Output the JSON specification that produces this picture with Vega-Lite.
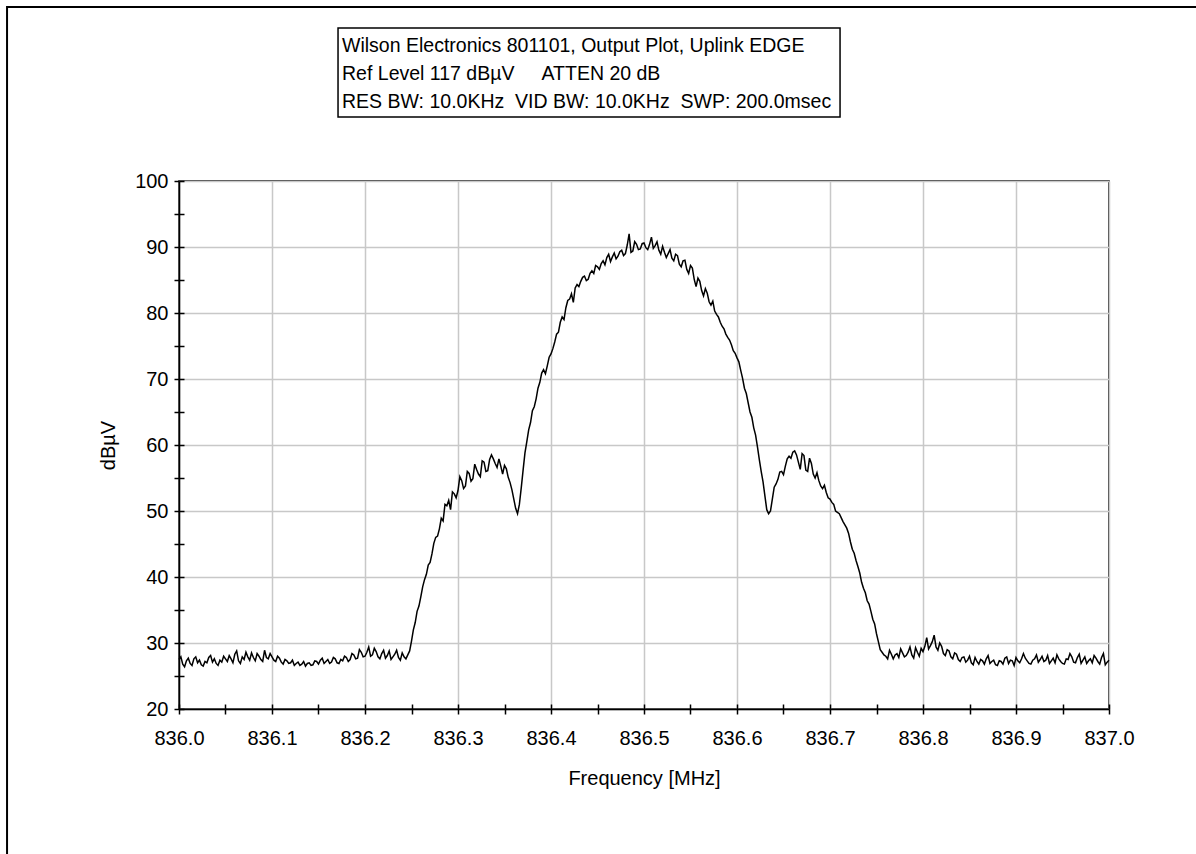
{
  "$schema": "https://vega.github.io/schema/vega-lite/v6.json",
  "width": 930,
  "height": 528,
  "padding": {"left": 6, "top": 6, "right": 0, "bottom": 0},
  "background": "white",
  "config": {
    "font": "Liberation Sans",
    "view": {"stroke": "black", "strokeWidth": 1.5},
    "axis": {
      "labelFont": "Liberation Sans",
      "labelFontSize": 20,
      "labelColor": "black",
      "titleFont": "Liberation Sans",
      "titleFontSize": 20,
      "titleFontWeight": "normal",
      "titleColor": "black",
      "domainColor": "black",
      "domainWidth": 1.5,
      "tickColor": "black",
      "tickWidth": 1.5,
      "tickSize": 5,
      "gridColor": "#c8c8c8",
      "gridWidth": 1.5
    }
  },
  "datasets": {
    "trace": [
      {"f":836.000,"v":27.5},{"f":836.002,"v":27.9},{"f":836.004,"v":26.8},{"f":836.006,"v":26.4},{"f":836.008,"v":27.3},{"f":836.010,"v":27.7},{"f":836.012,"v":26.9},{"f":836.014,"v":26.6},{"f":836.016,"v":27.6},{"f":836.018,"v":27.9},
      {"f":836.020,"v":27.0},{"f":836.022,"v":27.4},{"f":836.024,"v":26.7},{"f":836.026,"v":26.5},{"f":836.028,"v":27.2},{"f":836.030,"v":27.0},{"f":836.032,"v":27.8},{"f":836.034,"v":28.1},{"f":836.036,"v":27.1},{"f":836.038,"v":27.6},
      {"f":836.040,"v":26.9},{"f":836.042,"v":26.6},{"f":836.044,"v":27.4},{"f":836.046,"v":27.1},{"f":836.048,"v":28.0},{"f":836.050,"v":27.6},{"f":836.052,"v":27.2},{"f":836.054,"v":28.1},{"f":836.056,"v":27.6},{"f":836.058,"v":27.0},
      {"f":836.060,"v":28.3},{"f":836.062,"v":28.8},{"f":836.064,"v":27.3},{"f":836.066,"v":26.9},{"f":836.068,"v":27.9},{"f":836.070,"v":27.5},{"f":836.072,"v":28.6},{"f":836.074,"v":27.9},{"f":836.076,"v":27.4},{"f":836.078,"v":28.5},
      {"f":836.080,"v":27.8},{"f":836.082,"v":27.3},{"f":836.084,"v":28.4},{"f":836.086,"v":28.0},{"f":836.088,"v":27.5},{"f":836.090,"v":27.2},{"f":836.092,"v":28.9},{"f":836.094,"v":27.8},{"f":836.096,"v":27.6},{"f":836.098,"v":28.4},
      {"f":836.100,"v":27.9},{"f":836.102,"v":27.4},{"f":836.104,"v":27.2},{"f":836.106,"v":28.0},{"f":836.108,"v":27.7},{"f":836.110,"v":27.1},{"f":836.112,"v":26.8},{"f":836.114,"v":27.5},{"f":836.116,"v":27.3},{"f":836.118,"v":26.9},
      {"f":836.120,"v":27.0},{"f":836.122,"v":27.4},{"f":836.124,"v":26.6},{"f":836.126,"v":26.9},{"f":836.128,"v":27.1},{"f":836.130,"v":26.6},{"f":836.132,"v":26.8},{"f":836.134,"v":27.2},{"f":836.136,"v":26.5},{"f":836.138,"v":26.9},
      {"f":836.140,"v":27.0},{"f":836.142,"v":26.6},{"f":836.144,"v":26.7},{"f":836.146,"v":27.3},{"f":836.148,"v":27.2},{"f":836.150,"v":26.8},{"f":836.152,"v":27.4},{"f":836.154,"v":27.7},{"f":836.156,"v":26.9},{"f":836.158,"v":27.2},
      {"f":836.160,"v":27.5},{"f":836.162,"v":26.9},{"f":836.164,"v":27.1},{"f":836.166,"v":27.8},{"f":836.168,"v":27.6},{"f":836.170,"v":27.0},{"f":836.172,"v":26.9},{"f":836.174,"v":27.5},{"f":836.176,"v":27.3},{"f":836.178,"v":28.0},
      {"f":836.180,"v":27.8},{"f":836.182,"v":27.2},{"f":836.184,"v":27.5},{"f":836.186,"v":28.4},{"f":836.188,"v":28.2},{"f":836.190,"v":27.6},{"f":836.192,"v":27.7},{"f":836.194,"v":29.0},{"f":836.196,"v":28.6},{"f":836.198,"v":27.9},
      {"f":836.200,"v":28.0},{"f":836.202,"v":28.6},{"f":836.204,"v":29.4},{"f":836.206,"v":28.0},{"f":836.208,"v":28.2},{"f":836.210,"v":29.2},{"f":836.212,"v":28.7},{"f":836.214,"v":27.9},{"f":836.216,"v":27.6},{"f":836.218,"v":28.4},
      {"f":836.220,"v":28.9},{"f":836.222,"v":27.7},{"f":836.224,"v":28.1},{"f":836.226,"v":28.8},{"f":836.228,"v":27.5},{"f":836.230,"v":27.9},{"f":836.232,"v":28.3},{"f":836.234,"v":28.9},{"f":836.236,"v":27.8},{"f":836.238,"v":27.4},
      {"f":836.240,"v":28.5},{"f":836.242,"v":27.9},{"f":836.244,"v":27.6},{"f":836.246,"v":28.2},{"f":836.248,"v":28.8},{"f":836.250,"v":30.3},{"f":836.252,"v":32.0},{"f":836.254,"v":33.1},{"f":836.256,"v":34.8},{"f":836.258,"v":35.6},
      {"f":836.260,"v":37.0},{"f":836.262,"v":38.5},{"f":836.264,"v":39.6},{"f":836.266,"v":40.4},{"f":836.268,"v":41.8},{"f":836.270,"v":42.2},{"f":836.272,"v":43.5},{"f":836.274,"v":45.1},{"f":836.276,"v":46.0},{"f":836.278,"v":46.2},
      {"f":836.280,"v":47.3},{"f":836.282,"v":48.9},{"f":836.284,"v":48.5},{"f":836.286,"v":51.0},{"f":836.288,"v":50.8},{"f":836.290,"v":51.6},{"f":836.292,"v":50.2},{"f":836.294,"v":52.9},{"f":836.296,"v":52.6},{"f":836.298,"v":52.0},
      {"f":836.300,"v":53.1},{"f":836.302,"v":55.2},{"f":836.304,"v":54.6},{"f":836.306,"v":53.4},{"f":836.308,"v":53.8},{"f":836.310,"v":56.0},{"f":836.312,"v":55.7},{"f":836.314,"v":54.5},{"f":836.316,"v":54.9},{"f":836.318,"v":57.1},
      {"f":836.320,"v":56.3},{"f":836.322,"v":55.6},{"f":836.324,"v":55.2},{"f":836.326,"v":57.6},{"f":836.328,"v":57.4},{"f":836.330,"v":56.0},{"f":836.332,"v":56.1},{"f":836.334,"v":57.8},{"f":836.336,"v":58.5},{"f":836.338,"v":57.9},
      {"f":836.340,"v":57.2},{"f":836.342,"v":56.6},{"f":836.344,"v":57.9},{"f":836.346,"v":56.8},{"f":836.348,"v":55.6},{"f":836.350,"v":56.9},{"f":836.352,"v":56.4},{"f":836.354,"v":55.1},{"f":836.356,"v":54.3},{"f":836.358,"v":53.2},
      {"f":836.360,"v":51.8},{"f":836.362,"v":50.4},{"f":836.364,"v":49.6},{"f":836.366,"v":51.0},{"f":836.368,"v":53.5},{"f":836.370,"v":56.2},{"f":836.372,"v":58.8},{"f":836.374,"v":60.5},{"f":836.376,"v":62.3},{"f":836.378,"v":63.4},
      {"f":836.380,"v":65.2},{"f":836.382,"v":65.8},{"f":836.384,"v":67.0},{"f":836.386,"v":68.6},{"f":836.388,"v":69.5},{"f":836.390,"v":70.9},{"f":836.392,"v":71.4},{"f":836.394,"v":70.8},{"f":836.396,"v":72.0},{"f":836.398,"v":73.3},
      {"f":836.400,"v":73.8},{"f":836.402,"v":74.6},{"f":836.404,"v":75.6},{"f":836.406,"v":76.8},{"f":836.408,"v":77.1},{"f":836.410,"v":78.6},{"f":836.412,"v":79.4},{"f":836.414,"v":79.0},{"f":836.416,"v":80.8},{"f":836.418,"v":81.9},
      {"f":836.420,"v":82.1},{"f":836.422,"v":82.9},{"f":836.424,"v":81.6},{"f":836.426,"v":83.8},{"f":836.428,"v":84.3},{"f":836.430,"v":84.0},{"f":836.432,"v":84.8},{"f":836.434,"v":85.4},{"f":836.436,"v":85.6},{"f":836.438,"v":84.9},
      {"f":836.440,"v":85.1},{"f":836.442,"v":86.0},{"f":836.444,"v":86.4},{"f":836.446,"v":86.0},{"f":836.448,"v":87.2},{"f":836.450,"v":87.0},{"f":836.452,"v":86.6},{"f":836.454,"v":87.5},{"f":836.456,"v":87.9},{"f":836.458,"v":87.3},
      {"f":836.460,"v":88.4},{"f":836.462,"v":88.9},{"f":836.464,"v":87.8},{"f":836.466,"v":88.5},{"f":836.468,"v":89.1},{"f":836.470,"v":88.2},{"f":836.472,"v":88.6},{"f":836.474,"v":89.3},{"f":836.476,"v":89.5},{"f":836.478,"v":88.7},
      {"f":836.480,"v":89.0},{"f":836.482,"v":90.3},{"f":836.484,"v":92.0},{"f":836.486,"v":89.2},{"f":836.488,"v":89.4},{"f":836.490,"v":90.8},{"f":836.492,"v":90.4},{"f":836.494,"v":89.6},{"f":836.496,"v":89.7},{"f":836.498,"v":90.5},
      {"f":836.500,"v":90.6},{"f":836.502,"v":89.9},{"f":836.504,"v":89.6},{"f":836.506,"v":90.4},{"f":836.508,"v":91.5},{"f":836.510,"v":89.8},{"f":836.512,"v":90.2},{"f":836.514,"v":90.8},{"f":836.516,"v":89.5},{"f":836.518,"v":88.9},
      {"f":836.520,"v":90.1},{"f":836.522,"v":89.2},{"f":836.524,"v":88.4},{"f":836.526,"v":89.0},{"f":836.528,"v":89.6},{"f":836.530,"v":88.3},{"f":836.532,"v":87.9},{"f":836.534,"v":88.9},{"f":836.536,"v":88.7},{"f":836.538,"v":87.4},
      {"f":836.540,"v":87.0},{"f":836.542,"v":87.9},{"f":836.544,"v":88.0},{"f":836.546,"v":86.6},{"f":836.548,"v":86.0},{"f":836.550,"v":87.2},{"f":836.552,"v":86.8},{"f":836.554,"v":85.1},{"f":836.556,"v":84.0},{"f":836.558,"v":85.3},
      {"f":836.560,"v":84.8},{"f":836.562,"v":83.4},{"f":836.564,"v":82.6},{"f":836.566,"v":83.7},{"f":836.568,"v":83.0},{"f":836.570,"v":81.7},{"f":836.572,"v":81.2},{"f":836.574,"v":81.8},{"f":836.576,"v":80.3},{"f":836.578,"v":79.8},
      {"f":836.580,"v":79.4},{"f":836.582,"v":78.6},{"f":836.584,"v":78.0},{"f":836.586,"v":77.6},{"f":836.588,"v":76.8},{"f":836.590,"v":76.3},{"f":836.592,"v":75.9},{"f":836.594,"v":75.2},{"f":836.596,"v":74.3},{"f":836.598,"v":73.9},
      {"f":836.600,"v":73.2},{"f":836.602,"v":72.6},{"f":836.604,"v":71.3},{"f":836.606,"v":70.1},{"f":836.608,"v":68.6},{"f":836.610,"v":67.8},{"f":836.612,"v":66.4},{"f":836.614,"v":65.0},{"f":836.616,"v":64.2},{"f":836.618,"v":62.6},
      {"f":836.620,"v":61.5},{"f":836.622,"v":59.7},{"f":836.624,"v":57.8},{"f":836.626,"v":56.0},{"f":836.628,"v":54.4},{"f":836.630,"v":52.3},{"f":836.632,"v":50.2},{"f":836.634,"v":49.6},{"f":836.636,"v":50.0},{"f":836.638,"v":51.8},
      {"f":836.640,"v":53.6},{"f":836.642,"v":54.1},{"f":836.644,"v":54.8},{"f":836.646,"v":55.9},{"f":836.648,"v":56.0},{"f":836.650,"v":55.5},{"f":836.652,"v":56.8},{"f":836.654,"v":57.9},{"f":836.656,"v":58.3},{"f":836.658,"v":58.0},
      {"f":836.660,"v":58.9},{"f":836.662,"v":59.1},{"f":836.664,"v":58.5},{"f":836.666,"v":57.4},{"f":836.668,"v":56.3},{"f":836.670,"v":58.7},{"f":836.672,"v":58.4},{"f":836.674,"v":56.2},{"f":836.676,"v":56.0},{"f":836.678,"v":58.0},
      {"f":836.680,"v":57.2},{"f":836.682,"v":55.6},{"f":836.684,"v":55.0},{"f":836.686,"v":55.8},{"f":836.688,"v":54.6},{"f":836.690,"v":53.8},{"f":836.692,"v":53.4},{"f":836.694,"v":53.9},{"f":836.696,"v":52.8},{"f":836.698,"v":52.0},
      {"f":836.700,"v":51.8},{"f":836.702,"v":51.3},{"f":836.704,"v":51.0},{"f":836.706,"v":50.0},{"f":836.708,"v":49.8},{"f":836.710,"v":49.6},{"f":836.712,"v":49.0},{"f":836.714,"v":48.4},{"f":836.716,"v":47.9},{"f":836.718,"v":47.4},
      {"f":836.720,"v":46.6},{"f":836.722,"v":45.3},{"f":836.724,"v":44.2},{"f":836.726,"v":43.6},{"f":836.728,"v":42.5},{"f":836.730,"v":41.6},{"f":836.732,"v":40.6},{"f":836.734,"v":39.2},{"f":836.736,"v":38.3},{"f":836.738,"v":37.6},
      {"f":836.740,"v":36.4},{"f":836.742,"v":35.9},{"f":836.744,"v":34.8},{"f":836.746,"v":33.6},{"f":836.748,"v":32.9},{"f":836.750,"v":31.4},{"f":836.752,"v":30.2},{"f":836.754,"v":29.0},{"f":836.756,"v":28.6},{"f":836.758,"v":28.2},
      {"f":836.760,"v":28.0},{"f":836.762,"v":27.6},{"f":836.764,"v":28.9},{"f":836.766,"v":28.3},{"f":836.768,"v":27.6},{"f":836.770,"v":28.2},{"f":836.772,"v":28.4},{"f":836.774,"v":27.8},{"f":836.776,"v":29.1},{"f":836.778,"v":28.5},
      {"f":836.780,"v":27.9},{"f":836.782,"v":28.1},{"f":836.784,"v":28.6},{"f":836.786,"v":29.4},{"f":836.788,"v":28.2},{"f":836.790,"v":27.7},{"f":836.792,"v":29.3},{"f":836.794,"v":28.6},{"f":836.796,"v":28.0},{"f":836.798,"v":29.2},
      {"f":836.800,"v":28.7},{"f":836.802,"v":29.5},{"f":836.804,"v":30.8},{"f":836.806,"v":29.1},{"f":836.808,"v":29.6},{"f":836.810,"v":30.2},{"f":836.812,"v":31.2},{"f":836.814,"v":29.4},{"f":836.816,"v":28.9},{"f":836.818,"v":30.0},
      {"f":836.820,"v":29.5},{"f":836.822,"v":28.4},{"f":836.824,"v":28.1},{"f":836.826,"v":29.0},{"f":836.828,"v":28.8},{"f":836.830,"v":27.9},{"f":836.832,"v":27.6},{"f":836.834,"v":28.5},{"f":836.836,"v":28.3},{"f":836.838,"v":27.5},
      {"f":836.840,"v":27.2},{"f":836.842,"v":27.8},{"f":836.844,"v":27.9},{"f":836.846,"v":27.1},{"f":836.848,"v":27.4},{"f":836.850,"v":28.0},{"f":836.852,"v":27.0},{"f":836.854,"v":26.7},{"f":836.856,"v":27.8},{"f":836.858,"v":27.2},
      {"f":836.860,"v":26.8},{"f":836.862,"v":27.5},{"f":836.864,"v":27.3},{"f":836.866,"v":26.8},{"f":836.868,"v":27.6},{"f":836.870,"v":28.1},{"f":836.872,"v":26.9},{"f":836.874,"v":27.2},{"f":836.876,"v":27.4},{"f":836.878,"v":26.7},
      {"f":836.880,"v":26.6},{"f":836.882,"v":27.3},{"f":836.884,"v":27.2},{"f":836.886,"v":26.8},{"f":836.888,"v":27.7},{"f":836.890,"v":27.9},{"f":836.892,"v":26.9},{"f":836.894,"v":27.4},{"f":836.896,"v":27.3},{"f":836.898,"v":26.6},
      {"f":836.900,"v":27.8},{"f":836.902,"v":27.3},{"f":836.904,"v":27.0},{"f":836.906,"v":27.6},{"f":836.908,"v":28.4},{"f":836.910,"v":27.7},{"f":836.912,"v":27.3},{"f":836.914,"v":26.9},{"f":836.916,"v":26.8},{"f":836.918,"v":27.4},
      {"f":836.920,"v":27.6},{"f":836.922,"v":28.2},{"f":836.924,"v":27.1},{"f":836.926,"v":27.5},{"f":836.928,"v":28.0},{"f":836.930,"v":27.2},{"f":836.932,"v":27.4},{"f":836.934,"v":28.1},{"f":836.936,"v":26.9},{"f":836.938,"v":27.3},
      {"f":836.940,"v":27.7},{"f":836.942,"v":27.0},{"f":836.944,"v":28.2},{"f":836.946,"v":27.6},{"f":836.948,"v":27.2},{"f":836.950,"v":26.9},{"f":836.952,"v":26.8},{"f":836.954,"v":27.6},{"f":836.956,"v":27.5},{"f":836.958,"v":28.4},
      {"f":836.960,"v":27.9},{"f":836.962,"v":27.1},{"f":836.964,"v":27.0},{"f":836.966,"v":27.8},{"f":836.968,"v":28.3},{"f":836.970,"v":26.9},{"f":836.972,"v":27.4},{"f":836.974,"v":27.9},{"f":836.976,"v":26.9},{"f":836.978,"v":27.3},
      {"f":836.980,"v":27.6},{"f":836.982,"v":27.0},{"f":836.984,"v":28.1},{"f":836.986,"v":27.7},{"f":836.988,"v":27.2},{"f":836.990,"v":26.8},{"f":836.992,"v":27.8},{"f":836.994,"v":28.4},{"f":836.996,"v":26.7},{"f":836.998,"v":27.1},
      {"f":837.000,"v":27.4}
    ],
    "caption": [
      {"text": ["Wilson Electronics 801101, Output Plot, Uplink EDGE", "Ref Level 117 dBµV\u00a0\u00a0\u00a0\u00a0\u00a0ATTEN 20 dB", "RES BW: 10.0KHz\u00a0\u00a0VID BW: 10.0KHz\u00a0\u00a0SWP: 200.0msec"]}
    ]
  },
  "resolve": {"axis": {"x": "independent", "y": "independent"}},
  "layer": [
    {
      "data": {"name": "trace"},
      "mark": {"type": "line", "color": "black", "strokeWidth": 1.5},
      "encoding": {
        "x": {
          "field": "f", "type": "quantitative",
          "scale": {"domain": [836, 837], "nice": false, "zero": false},
          "axis": {
            "orient": "bottom",
            "title": "Frequency [MHz]",
            "values": [836.0, 836.05, 836.1, 836.15, 836.2, 836.25, 836.3, 836.35, 836.4, 836.45, 836.5, 836.55, 836.6, 836.65, 836.7, 836.75, 836.8, 836.85, 836.9, 836.95, 837.0],
            "labelExpr": "abs(datum.value*10 - round(datum.value*10)) < 0.001 ? format(datum.value, '.1f') : ''",
            "gridOpacity": {"condition": {"test": "abs(datum.value*10 - round(datum.value*10)) < 0.001", "value": 1}, "value": 0},
            "labelPadding": 14,
            "titlePadding": 20,
            "labelFlush": false,
            "labelOverlap": false
          }
        },
        "y": {
          "field": "v", "type": "quantitative",
          "scale": {"domain": [20, 100], "nice": false, "zero": false},
          "axis": {
            "orient": "left",
            "title": "dBµV",
            "values": [20, 25, 30, 35, 40, 45, 50, 55, 60, 65, 70, 75, 80, 85, 90, 95, 100],
            "labelExpr": "datum.value % 10 === 0 ? datum.label : ''",
            "gridOpacity": {"condition": {"test": "datum.value % 10 === 0", "value": 1}, "value": 0},
            "labelPadding": 6,
            "titlePadding": 16,
            "labelFlush": false,
            "labelOverlap": false
          }
        }
      }
    },
    {
      "data": {"values": [{}]},
      "mark": {"type": "rect", "filled": false, "stroke": "black", "strokeWidth": 2, "clip": false},
      "encoding": {
        "x": {"datum": 835.8151, "type": "quantitative", "axis": {"orient": "bottom", "values": [836.0, 836.05, 836.1, 836.15, 836.2, 836.25, 836.3, 836.35, 836.4, 836.45, 836.5, 836.55, 836.6, 836.65, 836.7, 836.75, 836.8, 836.85, 836.9, 836.95, 837.0], "tickSize": -5, "labels": false, "domain": false, "grid": false, "title": null}},
        "x2": {"datum": 837.25},
        "y": {"datum": 126.36, "type": "quantitative", "axis": {"orient": "left", "values": [20, 25, 30, 35, 40, 45, 50, 55, 60, 65, 70, 75, 80, 85, 90, 95, 100], "tickSize": -5, "labels": false, "domain": false, "grid": false, "title": null}},
        "y2": {"datum": -8}
      }
    },
    {
      "data": {"values": [{}]},
      "mark": {"type": "rect", "filled": false, "stroke": "black", "strokeWidth": 1.5, "clip": false},
      "encoding": {
        "x": {"datum": 836.171, "type": "quantitative", "axis": null},
        "x2": {"datum": 836.7108},
        "y": {"datum": 123.18, "type": "quantitative", "axis": null},
        "y2": {"datum": 109.7}
      }
    },
    {
      "data": {"name": "caption"},
      "mark": {"type": "text", "align": "left", "baseline": "alphabetic", "font": "Liberation Sans", "fontSize": 19.5, "lineHeight": 28, "color": "black", "clip": false},
      "encoding": {
        "x": {"datum": 836.1753, "type": "quantitative", "axis": null},
        "y": {"datum": 119.55, "type": "quantitative", "axis": null},
        "text": {"field": "text"}
      }
    }
  ]
}
